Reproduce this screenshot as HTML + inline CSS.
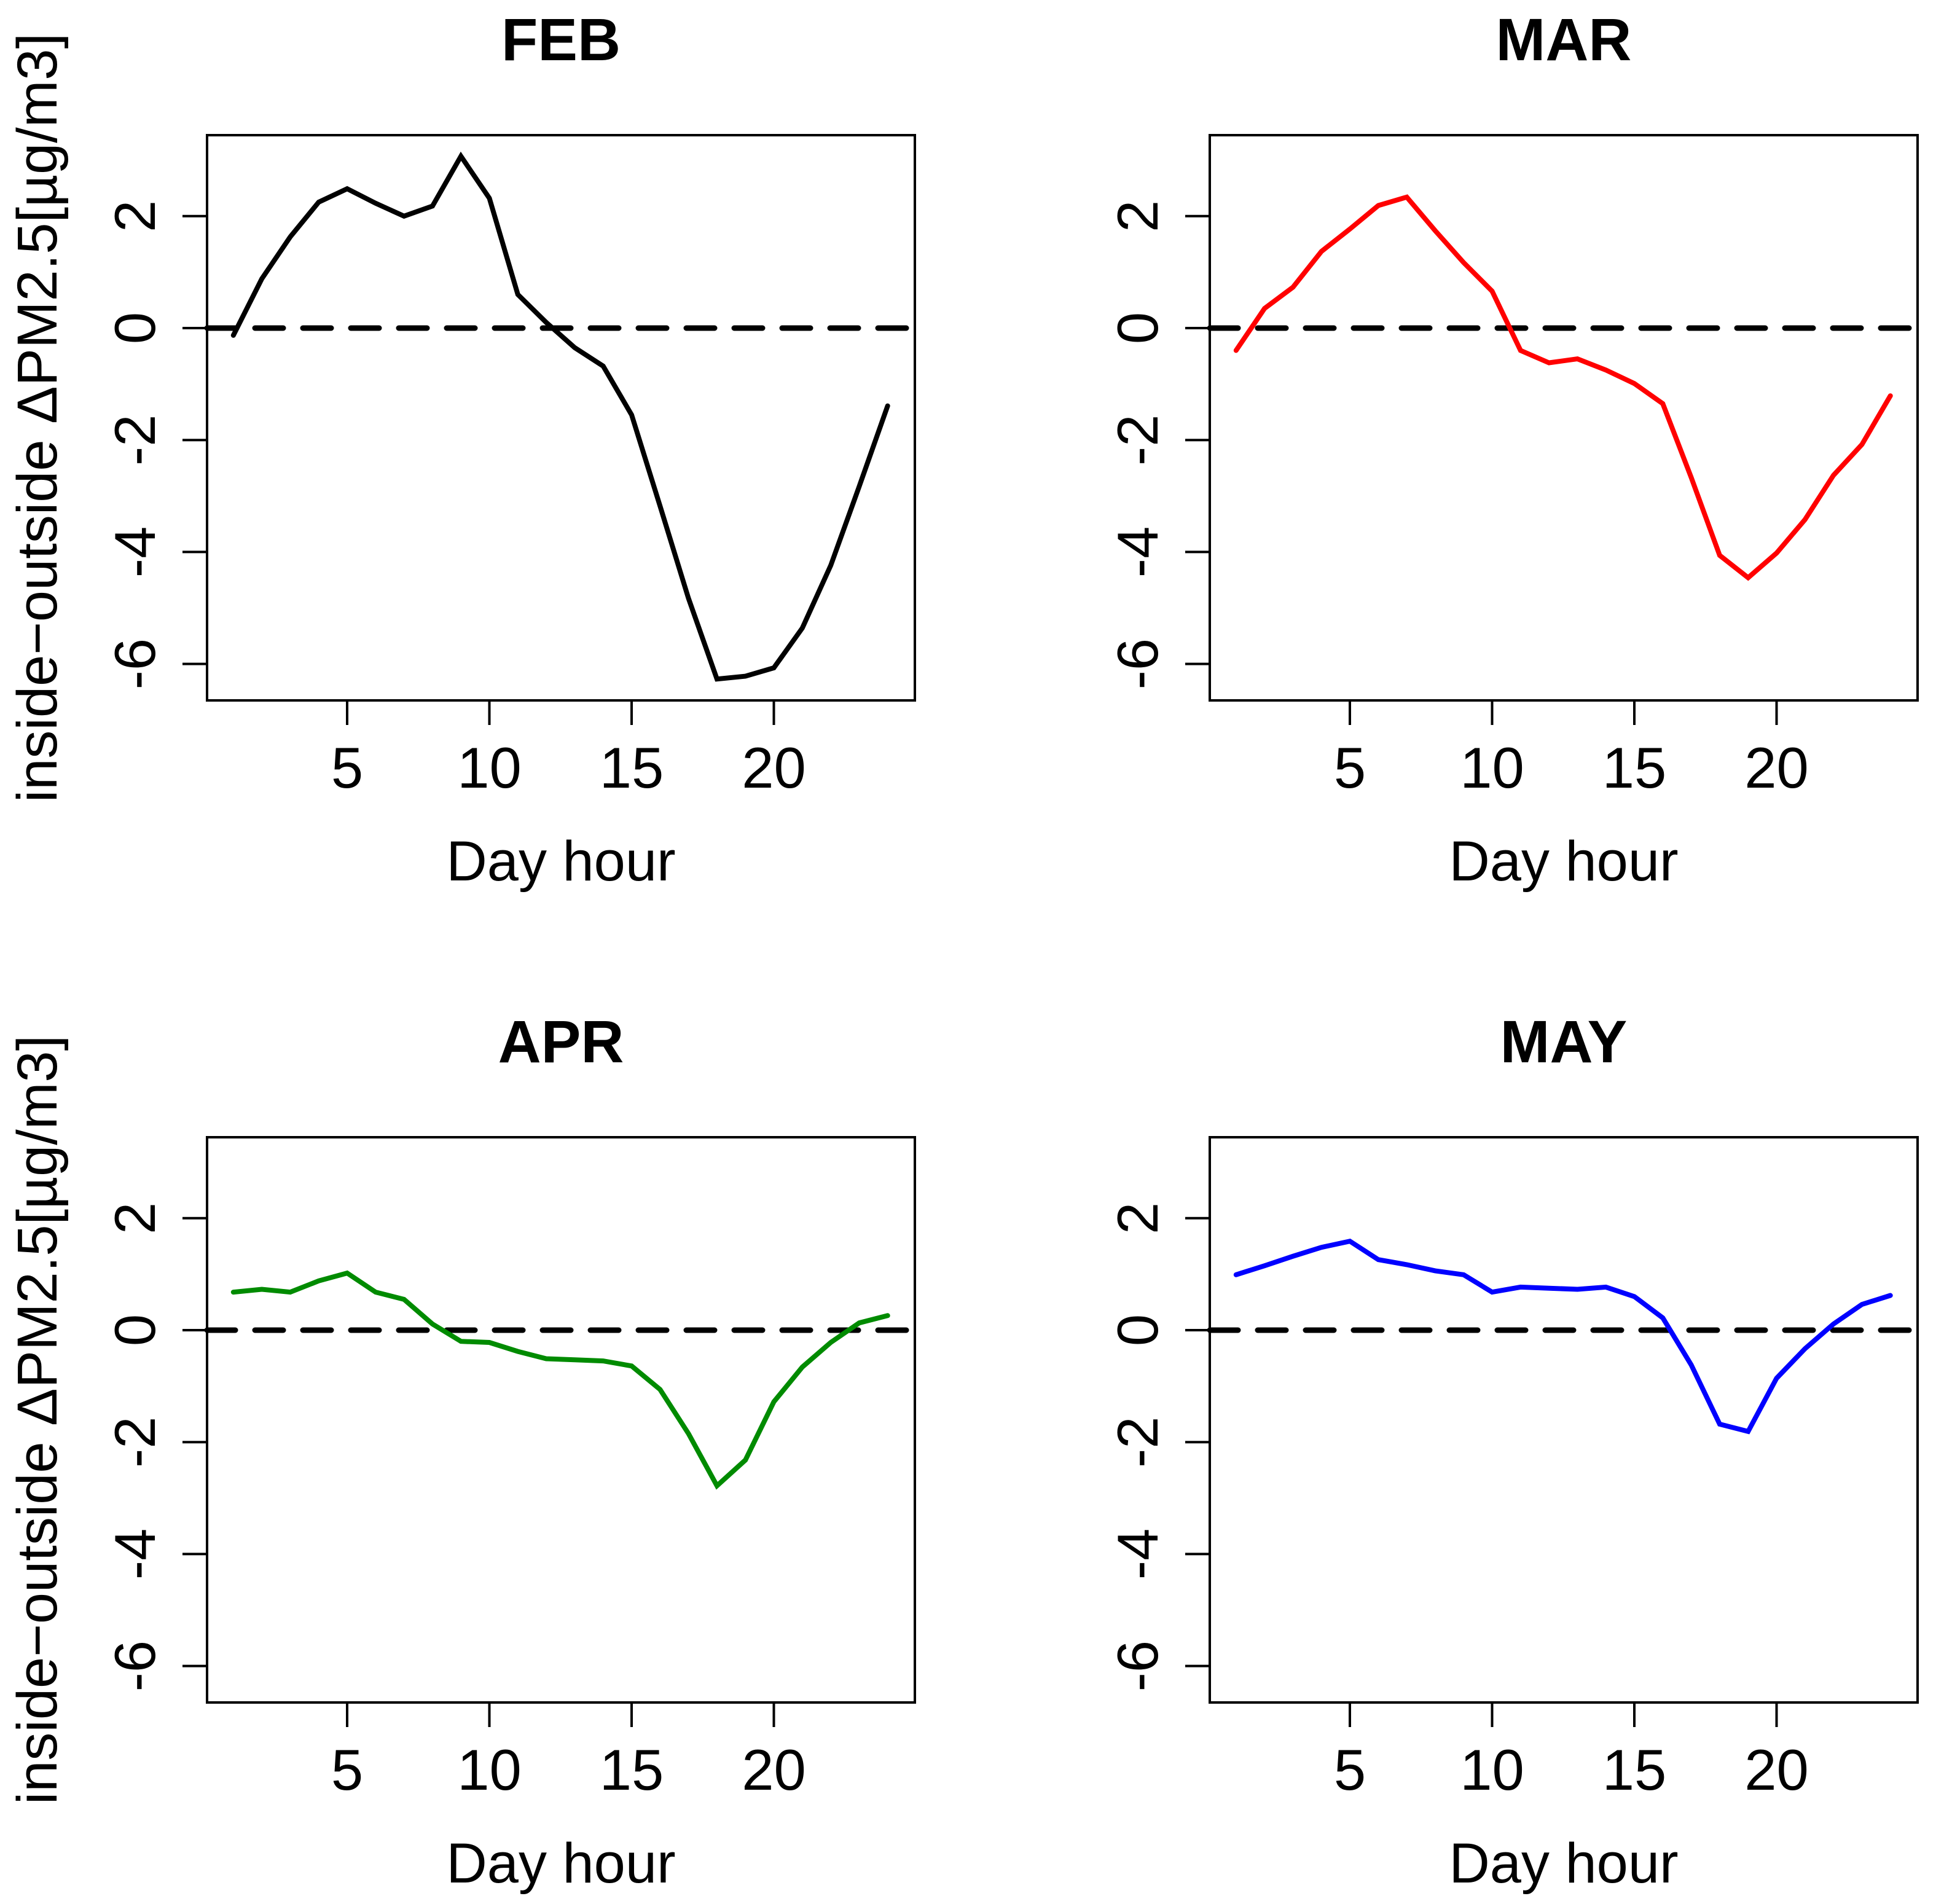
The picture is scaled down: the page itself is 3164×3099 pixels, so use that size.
<!DOCTYPE html>
<html><head><meta charset="utf-8"><style>html,body{margin:0;padding:0;background:#fff}svg{display:block}</style></head>
<body>
<svg id="chart" xmlns="http://www.w3.org/2000/svg" width="3164" height="3099" viewBox="0 0 3164 3099" font-family="'Liberation Sans', sans-serif"></svg>
<script>
const hours = [1,2,3,4,5,6,7,8,9,10,11,12,13,14,15,16,17,18,19,20,21,22,23,24];
const febValues = [-0.13,0.88,1.63,2.25,2.49,2.23,2.0,2.18,3.07,2.32,0.6,0.1,-0.35,-0.68,-1.55,-3.18,-4.83,-6.27,-6.22,-6.07,-5.36,-4.24,-2.83,-1.39];
const marValues = [-0.4,0.35,0.73,1.37,1.77,2.19,2.34,1.74,1.17,0.66,-0.4,-0.62,-0.55,-0.75,-0.99,-1.35,-2.67,-4.06,-4.46,-4.02,-3.42,-2.63,-2.08,-1.21];
const aprValues = [0.68,0.73,0.68,0.88,1.02,0.68,0.55,0.11,-0.2,-0.22,-0.38,-0.51,-0.53,-0.55,-0.64,-1.06,-1.85,-2.78,-2.32,-1.28,-0.66,-0.22,0.13,0.26];
const mayValues = [0.99,1.15,1.32,1.48,1.59,1.26,1.17,1.06,0.99,0.68,0.77,0.75,0.73,0.77,0.6,0.22,-0.62,-1.68,-1.81,-0.86,-0.33,0.11,0.46,0.62];
const monthNames = ["FEB","MAR","APR","MAY"];
const lineColors = ["#000000","#ff0000","#008b00","#0000ff"];
const xTicks = [5,10,15,20];
const yTicks = [2,0,-2,-4,-6];

const NS = "http://www.w3.org/2000/svg";
const svg = document.getElementById("chart");
function mk(tag, attrs, parent, text) {
  const e = document.createElementNS(NS, tag);
  for (const k in attrs) e.setAttribute(k, attrs[k]);
  if (text !== undefined) e.textContent = text;
  parent.appendChild(e);
  return e;
}
const series = [febValues, marValues, aprValues, mayValues];
const slugs = ["feb","mar","apr","may"];
for (let p = 0; p < 4; p++) {
  const ox = (p % 2) * 1632, oy = Math.floor(p / 2) * 1631;
  const g = mk("g", {}, svg);
  
  
  const xs = v => ox + 565 + (v - 5) * 46.3;
  const ys = v => oy + 534 - v * 91.1;
  const L = ox + 337, R = ox + 1489, T = oy + 220, B = oy + 1140;
  const box = mk("rect", {x:L, y:T, width:R-L, height:B-T, fill:"none", stroke:"#000", "stroke-width":4}, g);
  
  
  const ttl = mk("text", {x:(L+R)/2, y:oy+98, "text-anchor":"middle", "font-size":97, "font-weight":"bold"}, g, monthNames[p]);
  
  
  for (const t of xTicks) {
    const tk = mk("line", {x1:xs(t), x2:xs(t), y1:B, y2:B+40, stroke:"#000", "stroke-width":4}, g);
    
    
    const tl = mk("text", {x:xs(t), y:oy+1282, "text-anchor":"middle", "font-size":94}, g, String(t));
    
    
  }
  for (const t of yTicks) {
    const tk = mk("line", {x1:L-40, x2:L, y1:ys(t), y2:ys(t), stroke:"#000", "stroke-width":4}, g);
    
    
    const tl = mk("text", {x:0, y:0, "text-anchor":"middle", "font-size":94, transform:`translate(${ox+252},${ys(t)}) rotate(-90)`}, g, String(t));
    
    
  }
  const xl = mk("text", {x:(L+R)/2, y:oy+1433, "text-anchor":"middle", "font-size":92}, g, "Day hour");
  
  
  if (p % 2 === 0) {
    const yl = mk("text", {x:0, y:0, "text-anchor":"middle", "font-size":92, transform:`translate(${ox+92},${(T+B)/2}) rotate(-90)`}, g, "inside\u2212outside \u0394PM2.5[\u00b5g/m3]");
    
    
  }
  const ref = mk("line", {x1:L, x2:R, y1:ys(0), y2:ys(0), stroke:"#000", "stroke-width":9, "stroke-dasharray":"46 32", "stroke-linecap":"round"}, g);
  
  
  const pts = hours.map((h, i) => xs(h).toFixed(1) + "," + ys(series[p][i]).toFixed(1)).join(" ");
  const ln = mk("polyline", {points:pts, fill:"none", stroke:lineColors[p], "stroke-width":8, "stroke-linejoin":"miter", "stroke-linecap":"round"}, g);
  
  
}
</script>
</body></html>
